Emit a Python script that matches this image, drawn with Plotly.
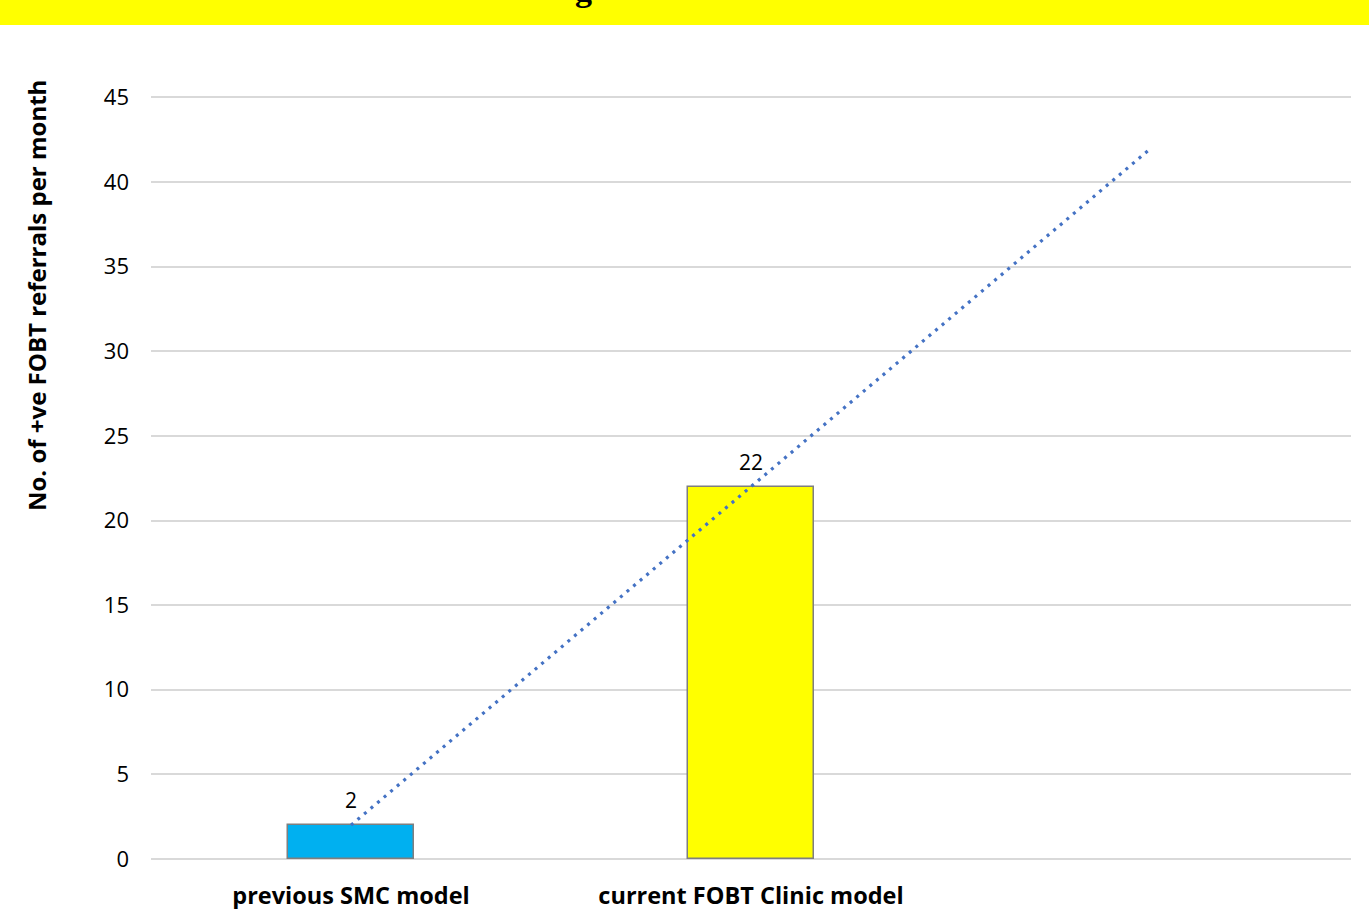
import numpy as np
import plotly.graph_objects as go

categories = ["previous SMC model", "current FOBT Clinic model"]
values = [2, 22]
bar_colors = ["#00B0F0", "#FFFF00"]
y_title = "No. of +ve FOBT referrals per month"
banner_text = "g"

x_pos = list(range(len(categories)))
# linear trendline, forecast forward 1 period
coef = np.polyfit(x_pos, values, 1)
trend_x = list(range(len(categories) + 1))
trend_y = [float(np.polyval(coef, x)) for x in trend_x]

L, R, T, B = 151, 18, 94, 50
W, H = 1369, 909
PW, PH = W - L - R, H - T - B


def px_y(py):
    return 1 - (py - T) / PH


def px_x(px):
    return (px - L) / PW


fig = go.Figure()
fig.add_trace(go.Bar(
    x=x_pos, y=values, width=0.315,
    marker=dict(color=bar_colors, line=dict(color="#7F7F7F", width=1.5)),
    showlegend=False, hoverinfo="skip"))
fig.add_trace(go.Scatter(
    x=trend_x, y=trend_y, mode="lines",
    line=dict(color="#4472C4", width=3.2, dash="3px,5.6px"),
    showlegend=False, hoverinfo="skip"))

annotations = [dict(x=xi, y=v, xref="x", yref="y", text=str(v), showarrow=False,
                    yanchor="middle", yshift=25,
                    font=dict(family="Open Sans", size=21, color="#000000"))
               for xi, v in zip(x_pos, values)]
annotations.append(dict(text="<b>" + y_title + "</b>", xref="paper", yref="paper",
                        x=px_x(36), y=px_y(296), textangle=-90,
                        xanchor="center", yanchor="middle", showarrow=False,
                        font=dict(family="Open Sans", size=24, color="#000000")))
annotations.append(dict(text="<b>" + banner_text + "</b>", xref="paper", yref="paper",
                        x=px_x(583), y=px_y(10),
                        xanchor="center", yanchor="bottom", showarrow=False,
                        font=dict(family="Liberation Serif", size=34, color="#000000")))

fig.update_layout(
    width=W, height=H,
    margin=dict(l=L, r=R, t=T, b=B, autoexpand=False),
    paper_bgcolor="white", plot_bgcolor="white",
    bargap=0,
    xaxis=dict(range=[-0.5, 2.5], tickvals=x_pos, ticktext=categories,
               showgrid=False, zeroline=False, showline=False, ticks="",
               automargin=False,
               tickfont=dict(family="Open Sans", size=23.5, color="#000000", weight="bold"),
               ticklabelstandoff=20),
    yaxis=dict(range=[0, 45.2], tickvals=list(range(0, 46, 5)), showgrid=True,
               gridcolor="#D9D9D9", gridwidth=1.5, automargin=False,
               zeroline=True, zerolinecolor="#D9D9D9", zerolinewidth=1.5,
               tickfont=dict(family="Open Sans", size=22, color="#000000"),
               ticks="", ticklabelstandoff=21),
    shapes=[dict(type="rect", xref="paper", yref="paper",
                 x0=px_x(0), x1=px_x(W),
                 y0=px_y(25), y1=px_y(-5),
                 fillcolor="#FFFF00", line=dict(width=0), layer="below")],
    annotations=annotations,
)

fig.write_html("out.html")
